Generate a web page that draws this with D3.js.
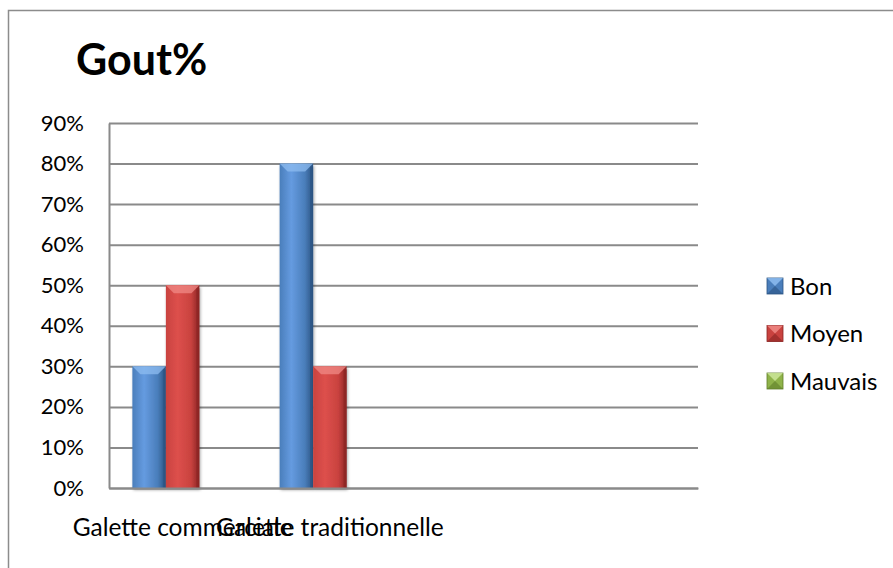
<!DOCTYPE html>
<html>
<head>
<meta charset="utf-8">
<script src="https://cdnjs.cloudflare.com/ajax/libs/d3/7.8.5/d3.min.js"></script>
<style>
  body { margin: 0; background: #fff; }
  text { font-family: Lato, "Open Sans", sans-serif; fill: #000; }
</style>
</head>
<body>
<svg id="chart" width="893" height="568"></svg>
<script>
// chart data
const categories = ["Galette commerciale", "Galette traditionnelle", "", ""];
const seriesNames = ["Bon", "Moyen", "Mauvais"];
const bon = [0.3, 0.8, null, null];
const moyen = [0.5, 0.3, null, null];
const mauvais = [0, 0, null, null];
const yTicks = [0, 0.1, 0.2, 0.3, 0.4, 0.5, 0.6, 0.7, 0.8, 0.9];

const seriesValues = [bon, moyen, mauvais];
const colors = {
  Bon:     { base: "#4a7ebb", light: "#659be0", dark: "#2b5482", top: "#8dbcf0" },
  Moyen:   { base: "#c9423f", light: "#dd504c", dark: "#8a2523", top: "#f08a86" },
  Mauvais: { base: "#8fb34a", light: "#aed06a", dark: "#5f7d2a", top: "#cde69a" }
};

const svg = d3.select("#chart");
const defs = svg.append("defs");

// bar gradients
seriesNames.forEach(s => {
  const c = colors[s];
  const g = defs.append("linearGradient").attr("id", "grad-" + s)
    .attr("x1", "0").attr("x2", "1").attr("y1", "0").attr("y2", "0");
  g.append("stop").attr("offset", "0%").attr("stop-color", c.base);
  g.append("stop").attr("offset", "35%").attr("stop-color", c.light);
  g.append("stop").attr("offset", "75%").attr("stop-color", c.base);
  g.append("stop").attr("offset", "100%").attr("stop-color", c.dark);
});

const shadow = defs.append("filter").attr("id", "shadow")
  .attr("x", "-20%").attr("y", "-5%").attr("width", "140%").attr("height", "115%");
shadow.append("feDropShadow").attr("dx", 1).attr("dy", 2).attr("stdDeviation", 1.5)
  .attr("flood-color", "#000").attr("flood-opacity", 0.35);

// outer chart border
svg.append("rect")
  .attr("x", 8.5).attr("y", 10.5).attr("width", 900).attr("height", 600)
  .attr("fill", "none").attr("stroke", "#8c8c8c").attr("stroke-width", 1.5);

// title
svg.append("text")
  .attr("x", 76).attr("y", 75)
  .style("font-size", "43px").style("font-weight", "bold")
  .text("Gout%");

const plotLeft = 109, plotRight = 698, plotTop = 123, plotBottom = 488;

const x = d3.scaleBand()
  .domain(d3.range(categories.length))
  .range([plotLeft, plotRight])
  .paddingInner(0.3175)
  .paddingOuter(0.3175 / 2);

const x1 = d3.scaleBand()
  .domain(seriesNames)
  .range([0, x.bandwidth()]);

const y = d3.scaleLinear().domain([0, 0.9]).range([plotBottom, plotTop]);

// gridlines
const grid = svg.append("g")
  .attr("transform", "translate(" + plotLeft + ",0)")
  .call(d3.axisLeft(y).tickValues(yTicks).tickSize(-(plotRight - plotLeft)).tickFormat(""));
grid.select(".domain").remove();
grid.selectAll("line").attr("stroke", "#8a8a8a").attr("stroke-width", 2);

// y axis
const yAxis = svg.append("g")
  .attr("transform", "translate(" + plotLeft + ",0)")
  .call(d3.axisLeft(y).tickValues(yTicks).tickSize(0).tickPadding(25).tickFormat(d3.format(".0%")));
yAxis.select(".domain").attr("stroke", "#8a8a8a").attr("stroke-width", 2);
yAxis.selectAll("text").style("font-size", "22px").style("font-family", "Lato, sans-serif").attr("fill", "#000");

// bars
const groups = svg.append("g").selectAll("g")
  .data(categories.map((c, i) => i))
  .join("g")
  .attr("transform", i => "translate(" + x(i) + ",0)");

const barData = i => seriesNames.map((s, k) => ({ s, v: seriesValues[k][i] }))
  .filter(d => d.v !== null && d.v > 0);

const bars = groups.selectAll("g.bar")
  .data(i => barData(i))
  .join("g")
  .attr("class", "bar");

bars.append("rect")
  .attr("x", d => x1(d.s))
  .attr("y", d => y(d.v))
  .attr("width", x1.bandwidth())
  .attr("height", d => plotBottom - y(d.v))
  .attr("fill", d => "url(#grad-" + d.s + ")")
  .attr("filter", "url(#shadow)");

// top bevel
bars.append("path")
  .attr("d", d => {
    const x0 = x1(d.s), w = x1.bandwidth(), y0 = y(d.v), b = 8;
    return "M" + x0 + "," + y0 + "L" + (x0 + w) + "," + y0 +
      "L" + (x0 + w - b) + "," + (y0 + b) + "L" + (x0 + b) + "," + (y0 + b) + "Z";
  })
  .attr("fill", d => colors[d.s].top)
  .attr("opacity", 0.75);

// side bevels
bars.append("rect")
  .attr("x", d => x1(d.s) + x1.bandwidth() - 3)
  .attr("y", d => y(d.v) + 3)
  .attr("width", 3)
  .attr("height", d => plotBottom - y(d.v) - 3)
  .attr("fill", d => colors[d.s].dark)
  .attr("opacity", 0.6);

// x axis
const xAxis = svg.append("g")
  .attr("transform", "translate(0," + plotBottom + ")")
  .call(d3.axisBottom(x).tickSize(0).tickPadding(31).tickFormat(i => categories[i]));
xAxis.select(".domain").attr("stroke", "#8a8a8a").attr("stroke-width", 2);
xAxis.selectAll("text").style("font-size", "24.5px").style("font-family", "Lato, sans-serif").attr("fill", "#000");

// legend
const legend = svg.append("g").attr("transform", "translate(767,278)");
const item = legend.selectAll("g")
  .data(seriesNames)
  .join("g")
  .attr("transform", (d, i) => "translate(0," + (i * 47.5) + ")");

const m = 16;
item.append("rect")
  .attr("width", m).attr("height", m)
  .attr("fill", d => colors[d].base)
  .attr("stroke", d => colors[d].dark).attr("stroke-width", 0.8);
item.append("path")
  .attr("d", "M0,0L" + m + ",0L" + (m / 2) + "," + (m / 2) + "Z")
  .attr("fill", d => colors[d].top).attr("opacity", 0.85);
item.append("path")
  .attr("d", "M0," + m + "L" + m + "," + m + "L" + (m / 2) + "," + (m / 2) + "Z")
  .attr("fill", d => colors[d].dark).attr("opacity", 0.6);
item.append("text")
  .attr("x", 23).attr("y", m / 2).attr("dy", "0.36em")
  .style("font-size", "24px")
  .text(d => d);
</script>
</body>
</html>
